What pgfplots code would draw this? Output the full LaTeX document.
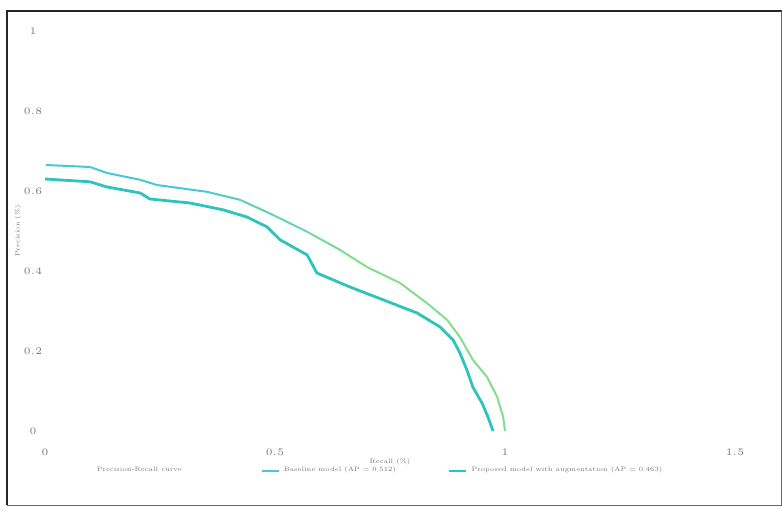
\documentclass[border=0pt]{standalone}
\usepackage{pgfplots}
\pgfplotsset{compat=1.18}
\definecolor{upA}{RGB}{70,200,215}
\definecolor{upB}{RGB}{130,222,140}
\definecolor{lowC}{RGB}{45,196,190}
\definecolor{txt}{RGB}{120,120,120}
\begin{document}
\begin{tikzpicture}
\useasboundingbox (0,0) rectangle (391pt,254.5pt);
\draw[line width=1pt, black!85] (3.5pt,2pt) -- (3.5pt,249pt) -- (391pt,249pt);
\draw[line width=0.4pt, black!60] (390.5pt,249pt) -- (390.5pt,2pt) -- (3.5pt,2pt);
\begin{axis}[
  at={(22.5pt,39pt)}, anchor=south west,
  scale only axis, width=345pt, height=200pt,
  xmin=0, xmax=1.5, ymin=0, ymax=1,
  xtick={0,0.5,1,1.5}, ytick={0,0.2,0.4,0.6,0.8,1},
  major tick length=0pt,
  axis line style={draw=none},
  tick label style={font=\fontsize{2.8}{3}\selectfont, text=txt},
  xticklabel style={anchor=center, yshift=-10.5pt},
  yticklabel style={anchor=center, xshift=-6pt},
  xlabel={Recall (\%)}, ylabel={Precision (\%)},
  label style={font=\fontsize{3.2}{4}\selectfont, text=txt},
  xlabel style={at={(axis description cs:0.5,-0.0775)}, anchor=center},
  ylabel style={at={(axis description cs:-0.039,0.5)}, anchor=center, rotate=0},
  legend columns=3,
  legend style={draw=none, fill=none, font=\fontsize{3.2}{4}\selectfont, text=txt,
    at={(axis description cs:0.06,-0.1)}, anchor=west},
  legend cell align=left,
  legend image code/.code={\draw[#1] (0pt,0pt) -- (8.5pt,0pt);},
  colormap={upg}{color=(upA) color=(upA) color=(upB) color=(upB)},
]
\addplot[mesh, point meta=x, line width=1pt, forget plot] coordinates {
(0.002,0.665) (0.098,0.660) (0.135,0.645) (0.207,0.628) (0.243,0.615)
(0.352,0.598) (0.424,0.578) (0.496,0.540) (0.570,0.498) (0.641,0.453)
(0.700,0.410) (0.772,0.370) (0.830,0.320) (0.874,0.278) (0.902,0.235)
(0.930,0.178) (0.961,0.135) (0.983,0.085) (0.996,0.035) (1.000,0.000)
};
\addplot[color=lowC, line width=1.4pt, forget plot] coordinates {
(0.000,0.630) (0.098,0.623) (0.135,0.610) (0.207,0.595) (0.228,0.580)
(0.315,0.570) (0.387,0.553) (0.439,0.535) (0.483,0.510) (0.511,0.478)
(0.539,0.460) (0.570,0.440) (0.591,0.395) (0.663,0.360) (0.735,0.328)
(0.809,0.295) (0.859,0.260) (0.887,0.228) (0.902,0.195) (0.917,0.153)
(0.930,0.110) (0.950,0.070) (0.963,0.035) (0.974,0.000)
};
\addlegendimage{empty legend}
\addlegendentry{\makebox[80pt][l]{Precision-Recall curve}}
\addlegendimage{color=upA, line width=1pt}
\addlegendentry{\makebox[80pt][l]{Baseline model (AP = 0.512)}}
\addlegendimage{color=lowC, line width=1.4pt}
\addlegendentry{Proposed model with augmentation (AP = 0.463)}
\end{axis}
\end{tikzpicture}
\end{document}
